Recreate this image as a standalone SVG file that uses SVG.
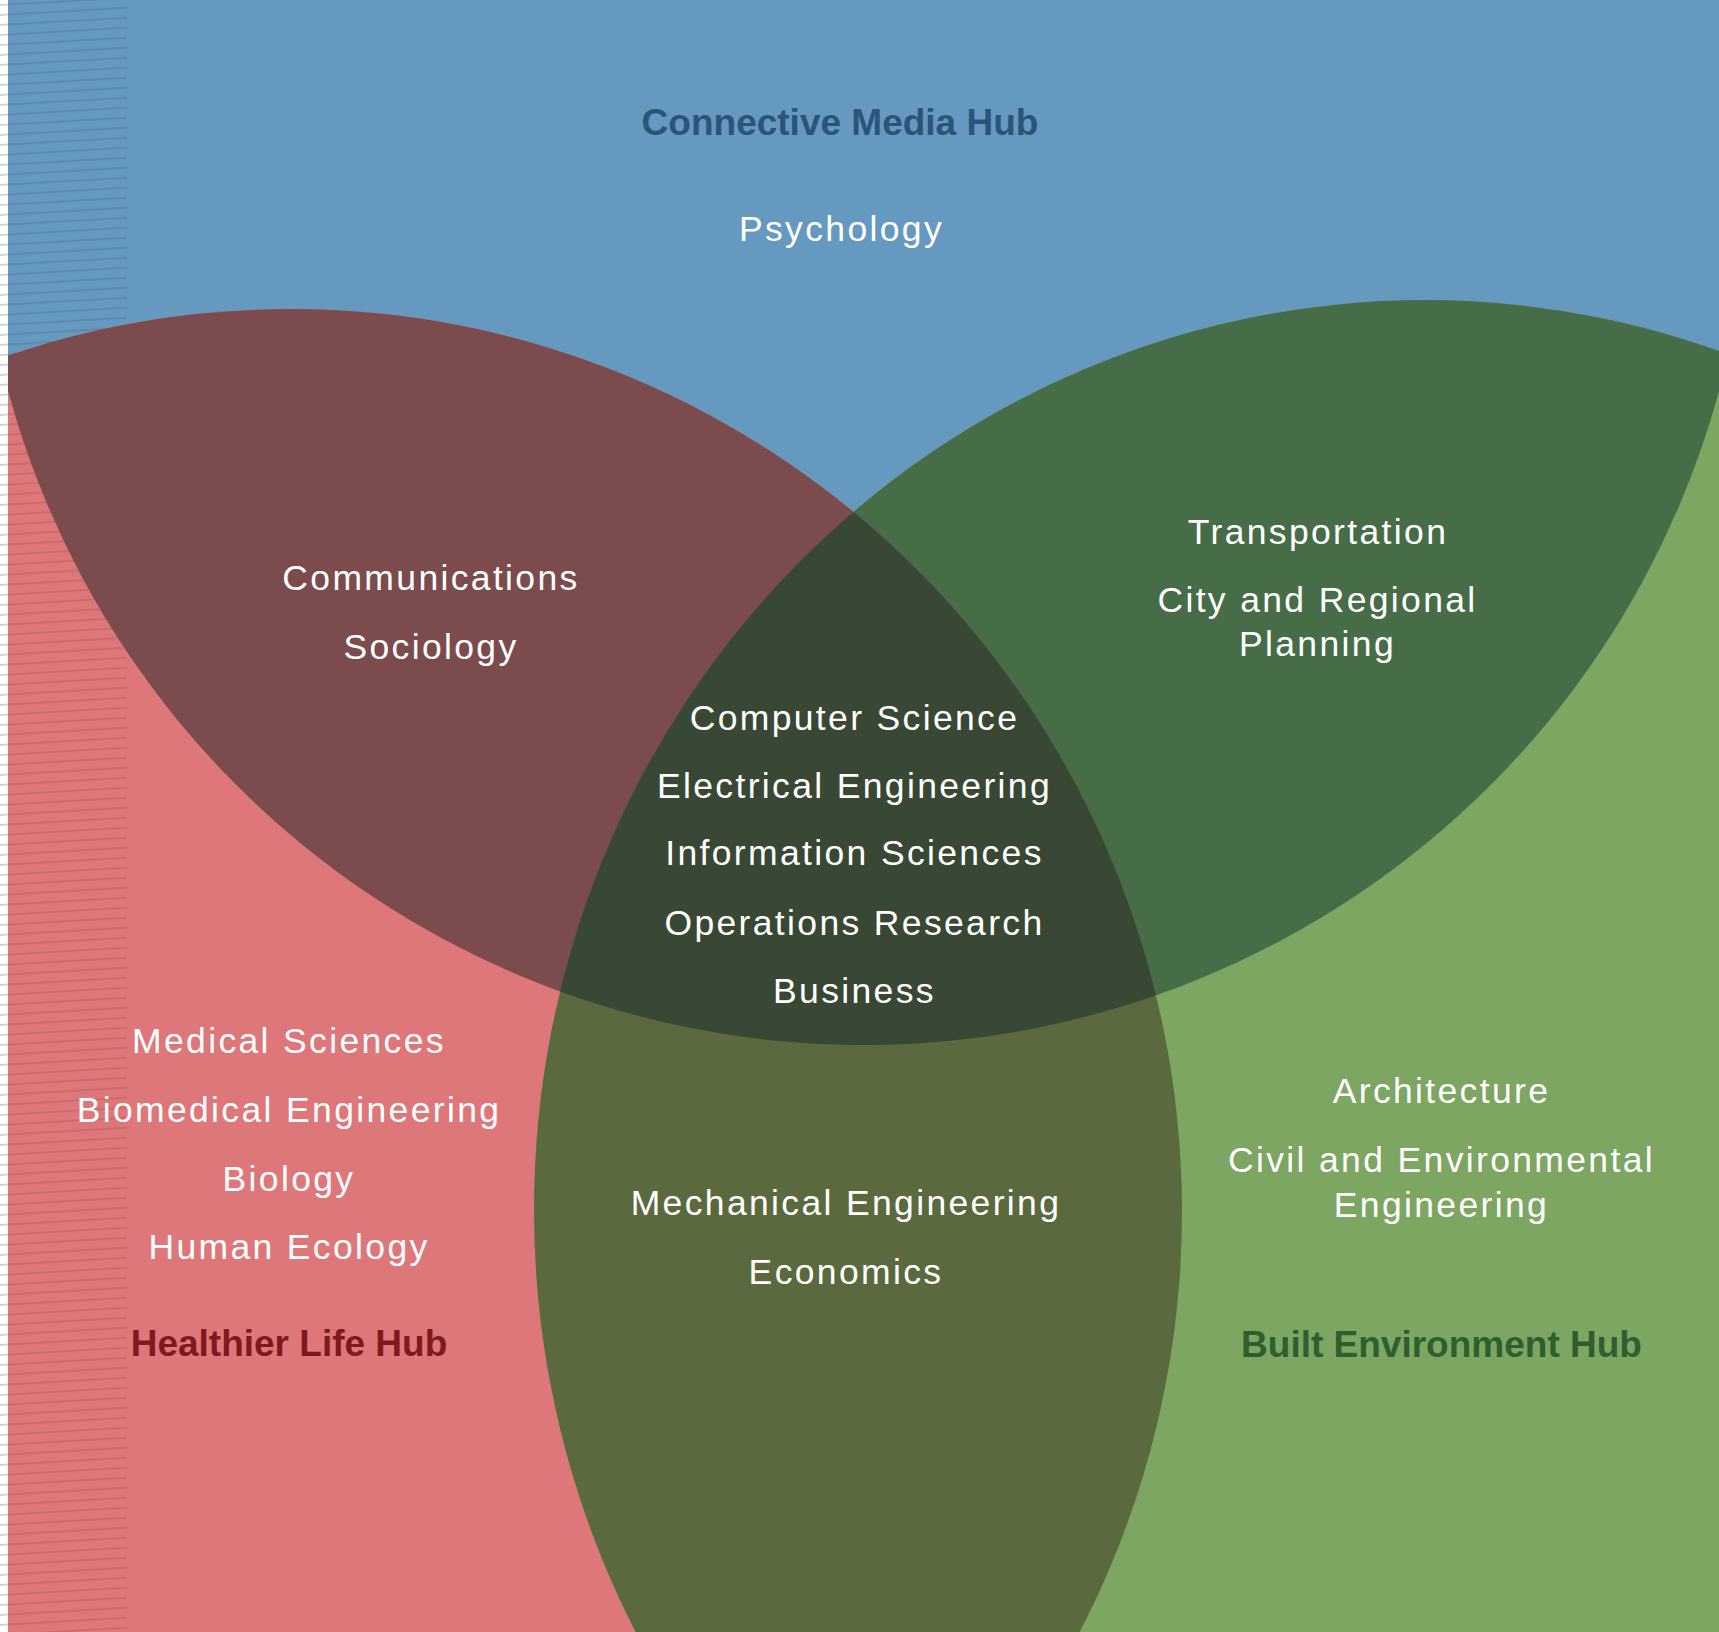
<svg xmlns="http://www.w3.org/2000/svg" width="1719" height="1632" viewBox="0 0 1719 1632">
<defs>
<style>
.lbl{font-family:"Liberation Sans",Arial,sans-serif;font-size:35.5px;letter-spacing:2.35px;fill:#ffffff;text-anchor:middle}
.hub{font-family:"Liberation Sans",Arial,sans-serif;font-size:37px;font-weight:bold;text-anchor:middle}
</style>
<clipPath id="clipBlue"><circle cx="863.5" cy="158.5" r="886.5"/></clipPath>
<clipPath id="clipRed"><ellipse cx="290.5" cy="1212" rx="891.5" ry="903"/></clipPath>
<pattern id="scan" patternUnits="userSpaceOnUse" width="127" height="10" patternTransform="skewY(-3.3)">
<line x1="0" y1="5" x2="127" y2="5" stroke="#000000" stroke-opacity="0.12" stroke-width="1.6"/>
</pattern>
<pattern id="scanEdge" patternUnits="userSpaceOnUse" width="127" height="10" patternTransform="skewY(-3.3)">
<line x1="0" y1="5" x2="127" y2="5" stroke="#000000" stroke-opacity="0.22" stroke-width="1.6"/>
</pattern>
</defs>
<rect id="background" x="0" y="0" width="1719" height="1632" fill="#6699BF"/>
<g id="hub-healthier-life"><ellipse cx="290.5" cy="1212" rx="891.5" ry="903" fill="#DE777A"/></g>
<g id="hub-built-environment"><ellipse cx="1425" cy="1210" rx="891" ry="910" fill="#7CA662"/></g>
<rect id="scan-lines" x="8" y="0" width="119" height="1632" fill="url(#scan)"/>
<g id="overlap-media-health" clip-path="url(#clipBlue)"><ellipse cx="290.5" cy="1212" rx="891.5" ry="903" fill="#7B4B4D"/></g>
<g id="overlap-media-built" clip-path="url(#clipBlue)"><ellipse cx="1425" cy="1210" rx="891" ry="910" fill="#476D48"/></g>
<g id="overlap-health-built" clip-path="url(#clipRed)"><ellipse cx="1425" cy="1210" rx="891" ry="910" fill="#5A693E"/></g>
<g id="overlap-all" clip-path="url(#clipBlue)"><ellipse cx="1425" cy="1210" rx="891" ry="910" fill="#394735" clip-path="url(#clipRed)"/></g>
<g id="scan-edge">
<rect x="0" y="0" width="8" height="1632" fill="#ffffff"/>
<rect x="0" y="0" width="8" height="1632" fill="url(#scanEdge)"/>
</g>
<g id="label-connective-media">
<text class="hub" x="840" y="135" fill="#2C5479">Connective Media Hub</text>
<text class="lbl" x="841.5" y="241">Psychology</text>
</g>
<g id="label-media-health">
<text class="lbl" x="431" y="590">Communications</text>
<text class="lbl" x="431" y="659">Sociology</text>
</g>
<g id="label-media-built">
<text class="lbl" x="1318" y="544">Transportation</text>
<text class="lbl" x="1317.5" y="612">City and Regional</text>
<text class="lbl" x="1317.5" y="656">Planning</text>
</g>
<g id="label-center">
<text class="lbl" x="854.5" y="730">Computer Science</text>
<text class="lbl" x="854.5" y="798">Electrical Engineering</text>
<text class="lbl" x="854.5" y="865">Information Sciences</text>
<text class="lbl" x="854.5" y="935">Operations Research</text>
<text class="lbl" x="854.5" y="1003">Business</text>
</g>
<g id="label-healthier-life">
<text class="lbl" x="289" y="1053">Medical Sciences</text>
<text class="lbl" x="289" y="1122">Biomedical Engineering</text>
<text class="lbl" x="289" y="1191">Biology</text>
<text class="lbl" x="289" y="1259">Human Ecology</text>
<text class="hub" x="289" y="1356" fill="#7E1A1D">Healthier Life Hub</text>
</g>
<g id="label-health-built">
<text class="lbl" x="846" y="1215">Mechanical Engineering</text>
<text class="lbl" x="846" y="1284">Economics</text>
</g>
<g id="label-built-environment">
<text class="lbl" x="1441.5" y="1103">Architecture</text>
<text class="lbl" x="1441.5" y="1172">Civil and Environmental</text>
<text class="lbl" x="1441.5" y="1217">Engineering</text>
<text class="hub" x="1441.5" y="1357" fill="#2F5E30">Built Environment Hub</text>
</g>
</svg>
